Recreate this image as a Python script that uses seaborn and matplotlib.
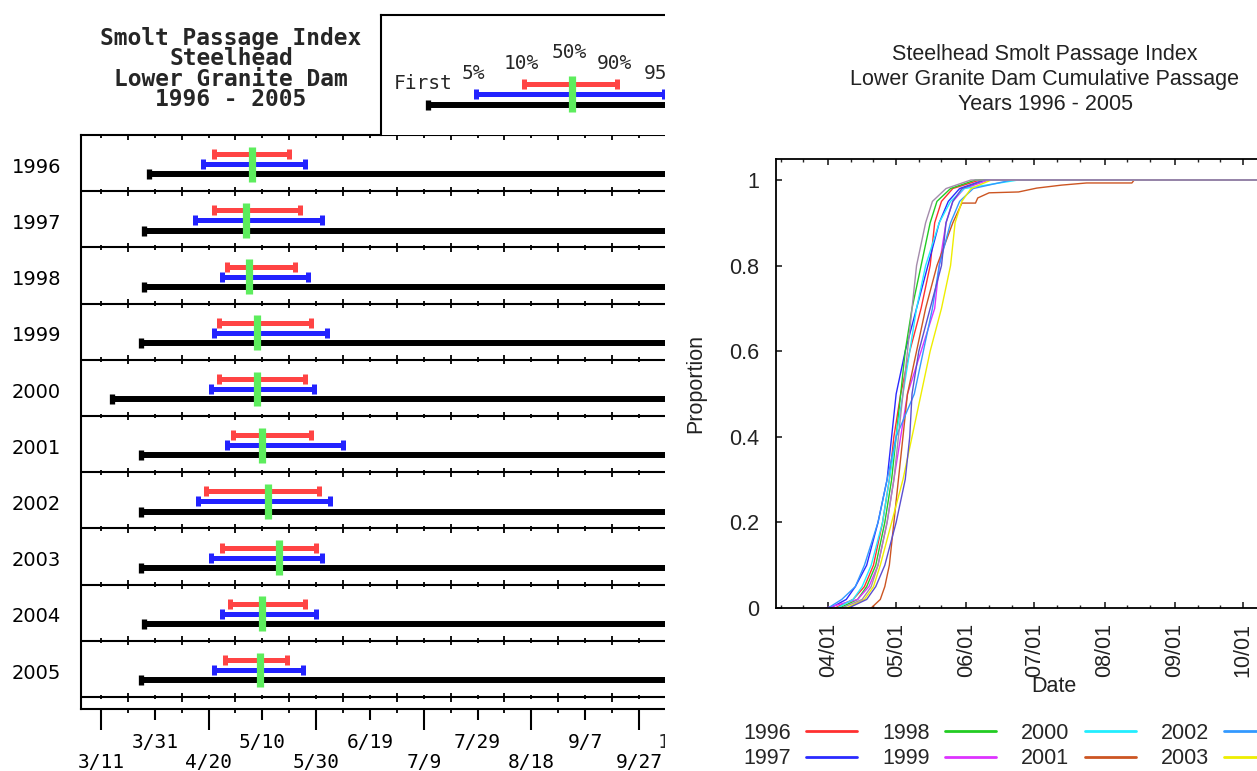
import numpy as np
import pandas as pd
import matplotlib
matplotlib.use("Agg")
import matplotlib.pyplot as plt
import matplotlib.dates as mdates
import matplotlib.transforms as mtransforms
from matplotlib.patches import Rectangle
from matplotlib.lines import Line2D
import seaborn as sns

REF_YEAR = 2001  # common (non-leap) calendar year used to place month/day values

# ---------------- left chart: passage index per year ----------------
years = [1996, 1997, 1998, 1999, 2000, 2001, 2002, 2003, 2004, 2005]
first_passage = ["03-29", "03-27", "03-27", "03-26", "03-15", "03-26", "03-26", "03-26", "03-27", "03-26"]
pct05 = ["04-18", "04-15", "04-25", "04-22", "04-21", "04-27", "04-16", "04-21", "04-25", "04-22"]
pct10 = ["04-22", "04-22", "04-27", "04-24", "04-24", "04-29", "04-19", "04-25", "04-28", "04-26"]
pct50 = ["05-06", "05-04", "05-05", "05-08", "05-08", "05-10", "05-12", "05-16", "05-10", "05-09"]
pct90 = ["05-20", "05-24", "05-22", "05-28", "05-26", "05-28", "05-31", "05-30", "05-26", "05-19"]
pct95 = ["05-26", "06-01", "05-27", "06-03", "05-29", "06-09", "06-04", "06-01", "05-30", "05-25"]
last_passage = ["10-31"] * 10
left_tick_labels = ["3/11", "3/31", "4/20", "5/10", "5/30", "6/19", "7/9", "7/29",
                    "8/18", "9/7", "9/27", "10/17"]
key_labels = ["First", "5%", "10%", "50%", "90%", "95%"]
left_title = "Smolt Passage Index\nSteelhead\nLower Granite Dam\n1996 - 2005"

# ---------------- right chart: cumulative passage ----------------
cum_levels = [0, 0.02, 0.05, 0.1, 0.2, 0.3, 0.4, 0.5, 0.6, 0.7, 0.8, 0.9, 0.95, 0.98, 1.0, 1.0]
cum_1996 = ["04-04", "04-12", "04-17", "04-21", "04-25", "04-28", "04-30", "05-03", "05-07",
            "05-12", "05-16", "05-18", "05-21", "05-26", "06-07", "10-31"]
cum_1997 = ["04-02", "04-09", "04-13", "04-18", "04-23", "04-27", "04-29", "05-01", "05-05",
            "05-10", "05-15", "05-20", "05-24", "05-29", "06-09", "10-31"]
cum_1998 = ["04-06", "04-14", "04-18", "04-22", "04-26", "04-29", "05-01", "05-03", "05-05",
            "05-08", "05-12", "05-16", "05-19", "05-25", "06-05", "10-31"]
cum_1999 = ["03-31", "04-14", "04-19", "04-23", "04-27", "04-30", "05-03", "05-06", "05-12",
            "05-18", "05-20", "05-23", "05-26", "05-31", "06-11", "10-31"]
cum_2000 = ["04-05", "04-12", "04-16", "04-20", "04-25", "04-28", "05-01", "05-04", "05-07",
            "05-10", "05-14", "05-20", "05-25", "05-31", "06-24", "10-31"]
cum_2002 = ["04-01", "04-07", "04-13", "04-17", "04-23", "04-27", "05-01", "05-09", "05-13",
            "05-17", "05-20", "05-25", "05-29", "06-04", "06-21", "10-31"]
cum_2003 = ["04-09", "04-17", "04-21", "04-24", "04-29", "05-04", "05-08", "05-12", "05-16",
            "05-21", "05-25", "05-27", "05-30", "06-03", "06-12", "10-31"]
cum_2004 = ["04-10", "04-18", "04-22", "04-26", "05-01", "05-05", "05-07", "05-08", "05-11",
            "05-16", "05-21", "05-23", "05-26", "05-30", "06-09", "10-31"]
cum_2005 = ["04-07", "04-16", "04-20", "04-23", "04-27", "04-30", "05-02", "05-04", "05-06",
            "05-08", "05-10", "05-14", "05-17", "05-23", "06-03", "10-31"]
cum_2001 = ["04-20", "04-24", "04-26", "04-28", "04-30", "05-02", "05-04", "05-06", "05-10",
            "05-14", "05-19", "05-26", "05-30", "06-05", "06-06", "06-11", "06-24", "07-02",
            "07-13", "07-24", "08-13", "08-14", "10-31"]
cum_2001_levels = [0, 0.02, 0.05, 0.1, 0.2, 0.3, 0.4, 0.5, 0.6, 0.7, 0.8, 0.9, 0.946, 0.946,
                   0.958, 0.97, 0.972, 0.981, 0.988, 0.993, 0.993, 1.0, 1.0]
year_colors = ["#ff3030", "#2a2aff", "#22cc22", "#dd33ff", "#22eeff",
               "#cc5522", "#3399ff", "#eeee00", "#5b4fd0", "#a48cac"]
legend_years = [1996, 1997, 1998, 1999, 2000, 2001, 2002, 2003]  # entries inside the visible crop
right_title = "Steelhead Smolt Passage Index\nLower Granite Dam Cumulative Passage\nYears 1996 - 2005"
right_y_ticks = [0, 0.2, 0.4, 0.6, 0.8, 1.0]
right_y_tick_labels = ["0", "0.2", "0.4", "0.6", "0.8", "1"]

# ---------------- helpers ----------------
def md(s):
    return pd.Timestamp(f"{REF_YEAR}-{s}")

def slash(s):
    return pd.to_datetime(f"{REF_YEAR}/{s}", format="%Y/%m/%d")

def num(ts):
    return mdates.date2num(ts)

sns.set_theme(style="ticks")
plt.rcParams["font.family"] = ["DejaVu Sans"]

W, H = 1257, 771
fig = plt.figure(figsize=(W / 100, H / 100), dpi=100)
fig.patch.set_facecolor("white")

RED, BLUE, GREEN = "#ff4444", "#2222ff", "#5ded5d"
MONO = "DejaVu Sans Mono"
SANS = "Liberation Sans"

# ================= LEFT CHART =================
ROW_PX = 56.2
DAY_PX = 2.69
n_rows = len(years)
axL = fig.add_axes([81 / W, (H - 709) / H, (700 - 81) / W, (709 - 135) / H], zorder=0)
tick_dates = [slash(t) for t in left_tick_labels]
t0 = tick_dates[0]
axL.set_xlim(num(t0 - pd.Timedelta(days=20 / DAY_PX)), num(t0 + pd.Timedelta(days=599 / DAY_PX)))
axL.set_ylim(n_rows + 12 / ROW_PX, 0)

for i, yr in enumerate(years):
    f, l = num(md(first_passage[i])), num(md(last_passage[i]))
    a05, a10, a50, a90, a95 = (num(md(p[i])) for p in (pct05, pct10, pct50, pct90, pct95))
    axL.hlines(i + 0.70, f, l, color="black", lw=4.3, zorder=3)
    axL.plot([f], [i + 0.70], ls="none", marker="|", ms=6.5, mew=3.8, color="black", zorder=3)
    axL.hlines(i + 0.52, a05, a95, color=BLUE, lw=3.6, zorder=4)
    axL.plot([a05, a95], [i + 0.52] * 2, ls="none", marker="|", ms=7.5, mew=3.6, color=BLUE, zorder=4)
    axL.hlines(i + 0.34, a10, a90, color=RED, lw=3.6, zorder=5)
    axL.plot([a10, a90], [i + 0.34] * 2, ls="none", marker="|", ms=7.5, mew=3.6, color=RED, zorder=5)
    axL.vlines(a50, i + 0.21, i + 0.83, color=GREEN, lw=5.2, zorder=6)

# row separators and their small tick marks
for b in range(1, n_rows + 1):
    axL.axhline(b, color="black", lw=1.5, zorder=2)
ten_day = pd.date_range(t0, tick_dates[-1], freq="10D")
for k, d in enumerate(ten_day):
    x = num(d)
    big = (k % 2 == 1)
    half = (4.5 if big else 2.5) / ROW_PX
    axL.vlines(x, 0, (5 if big else 2.5) / ROW_PX, color="black", lw=1.3, zorder=2)
    for b in range(1, n_rows + 1):
        axL.vlines(x, b - half, b + half, color="black", lw=1.3, zorder=2)
    if big:
        yb = n_rows + 12 / ROW_PX
        axL.vlines(x, yb, yb + 4 / ROW_PX, color="black", lw=1.3, zorder=2, clip_on=False)

axL.set_xticks([num(d) for d in tick_dates[0::2]])
axL.set_xticklabels(left_tick_labels[0::2])
upper_labels = list(left_tick_labels[1::2])
last_upper = upper_labels[-1]
upper_labels[-1] = ""
axL.set_xticks([num(d) for d in tick_dates[1::2]], minor=True)
axL.set_xticklabels(upper_labels, minor=True)
axL.tick_params(axis="x", which="major", direction="out", length=15.1, width=1.5,
                pad=16.4, labelsize=14, colors="black")
axL.tick_params(axis="x", which="minor", direction="out", length=7.9, width=1.5,
                pad=9.2, labelsize=14, colors="black")
for lbl in axL.get_xticklabels(which="both"):
    lbl.set_family(MONO)
# last upper label sits at the crop edge; drawn as its own text so it can sit a little left
blend = mtransforms.blended_transform_factory(axL.transData, axL.transAxes)
axL.text(num(tick_dates[-1]), 0, last_upper, ha="center", va="top", family=MONO, fontsize=14,
         transform=mtransforms.offset_copy(blend, fig=fig, x=-6, y=-24, units="dots"),
         clip_on=False)
axL.set_yticks([i + 0.54 for i in range(n_rows)])
axL.set_yticklabels([str(y) for y in years])
axL.tick_params(axis="y", length=0, pad=14.4, labelsize=14, colors="black")
for lbl in axL.get_yticklabels():
    lbl.set_family("DejaVu Sans")
axL.spines["right"].set_visible(False)
for s in ("left", "top", "bottom"):
    axL.spines[s].set_linewidth(1.5)
    axL.spines[s].set_color("black")

# legend key box
axK = fig.add_axes([381 / W, (H - 135) / H, (700 - 381) / W, (135 - 15) / H], zorder=0)
axK.set_xlim(0, 1)
axK.set_ylim(0, 1)
axK.set_xticks([])
axK.set_yticks([])
for s in ("right", "bottom"):
    axK.spines[s].set_visible(False)
for s in ("left", "top"):
    axK.spines[s].set_linewidth(1.5)
    axK.spines[s].set_color("black")
kx = [0.147, 0.298, 0.448, 0.599, 0.740, 0.887]
axK.hlines(0.25, kx[0], 1.2, color="black", lw=4.3)
axK.plot([kx[0]], [0.25], ls="none", marker="|", ms=6.5, mew=3.8, color="black")
axK.hlines(0.339, kx[1], kx[5], color=BLUE, lw=3.6)
axK.plot([kx[1], kx[5]], [0.339] * 2, ls="none", marker="|", ms=7.5, mew=3.6, color=BLUE)
axK.hlines(0.425, kx[2], kx[4], color=RED, lw=3.6)
axK.plot([kx[2], kx[4]], [0.425] * 2, ls="none", marker="|", ms=7.5, mew=3.6, color=RED)
axK.vlines(kx[3], 0.192, 0.492, color=GREEN, lw=5.2)
axK.text(0.2226, 0.43, key_labels[0], ha="right", va="center", family=MONO, fontsize=14)
key_ly = [0.5125, 0.592, 0.6875, 0.592, 0.5125]
for j in range(1, 6):
    axK.text(kx[j] - 0.008, key_ly[j - 1], key_labels[j], ha="center", va="center",
             family=MONO, fontsize=14)

fig.text(231 / W, 1 - 27 / H, left_title, ha="center", va="top", family=MONO,
         fontweight="bold", fontsize=16.5, linespacing=0.86)

# cover the part of the left chart that lies outside the visible crop
fig.add_artist(Rectangle((665 / W, 0), (776 - 665) / W, 1, transform=fig.transFigure,
                         facecolor="white", edgecolor="none", zorder=1))

# ================= RIGHT CHART =================
frames = []
series = [(1996, cum_1996, cum_levels), (1997, cum_1997, cum_levels), (1998, cum_1998, cum_levels),
          (1999, cum_1999, cum_levels), (2000, cum_2000, cum_levels), (2001, cum_2001, cum_2001_levels),
          (2002, cum_2002, cum_levels), (2003, cum_2003, cum_levels), (2004, cum_2004, cum_levels),
          (2005, cum_2005, cum_levels)]
for yr, dts, lev in series:
    frames.append(pd.DataFrame({"Date": [md(d) for d in dts], "Proportion": lev, "Year": str(yr)}))
cum_df = pd.concat(frames, ignore_index=True)
palette = {str(y): c for y, c in zip(years, year_colors)}

axR = fig.add_axes([776 / W, (H - 608) / H, (1311 - 776) / W, (608 - 159) / H], zorder=2)
sns.lineplot(data=cum_df, x="Date", y="Proportion", hue="Year", hue_order=[str(y) for y in years],
             palette=palette, estimator=None, sort=True, lw=1.0, legend=False, ax=axR)
axR.set_xlim(num(md("03-09")), num(md("10-31")))
axR.set_ylim(0, 1.049)
axR.xaxis.set_major_locator(mdates.MonthLocator())
axR.xaxis.set_major_formatter(mdates.DateFormatter("%m/%d"))
axR.xaxis.set_minor_locator(mdates.DayLocator(bymonthday=[11, 21]))
axR.set_yticks(right_y_ticks)
axR.set_yticklabels(right_y_tick_labels)
axR.tick_params(axis="x", which="major", direction="in", length=4.5, width=1.2, top=True,
                labelrotation=90, pad=10.5, labelsize=15.5, colors="#222222")
axR.tick_params(axis="x", which="minor", direction="in", length=2.3, width=1.0, top=True)
axR.tick_params(axis="y", which="major", direction="in", length=4.5, width=1.2,
                pad=12, labelsize=15.5, colors="#222222")
for lbl in axR.get_xticklabels() + axR.get_yticklabels():
    lbl.set_family(SANS)
for s in axR.spines.values():
    s.set_linewidth(1.3)
    s.set_color("black")
axR.set_xlabel("Date", family=SANS, fontsize=15.5, color="#222222")
axR.set_ylabel("Proportion", family=SANS, fontsize=15.5, color="#222222")
axR.xaxis.set_label_coords((1054 - 776) / 535, -(676 - 608) / 449)
axR.yaxis.set_label_coords((706 - 776) / 535, 0.5)

fig.text(1045 / W, 1 - 44 / H, right_title, ha="center", va="top", family=SANS,
         fontsize=15.5, linespacing=1.25, color="#222222")

handles = [Line2D([], [], color=palette[str(y)], lw=2.0) for y in legend_years]
fig.legend(handles, [str(y) for y in legend_years], ncol=4, markerfirst=False, loc="upper left",
           bbox_to_anchor=(743 / W, 1 - 723 / H), frameon=False, borderpad=0, borderaxespad=0,
           handlelength=2.4, handletextpad=0.7, columnspacing=1.15, labelspacing=0.2,
           prop={"family": SANS, "size": 15.5})

fig.savefig("out.png", dpi=100)
